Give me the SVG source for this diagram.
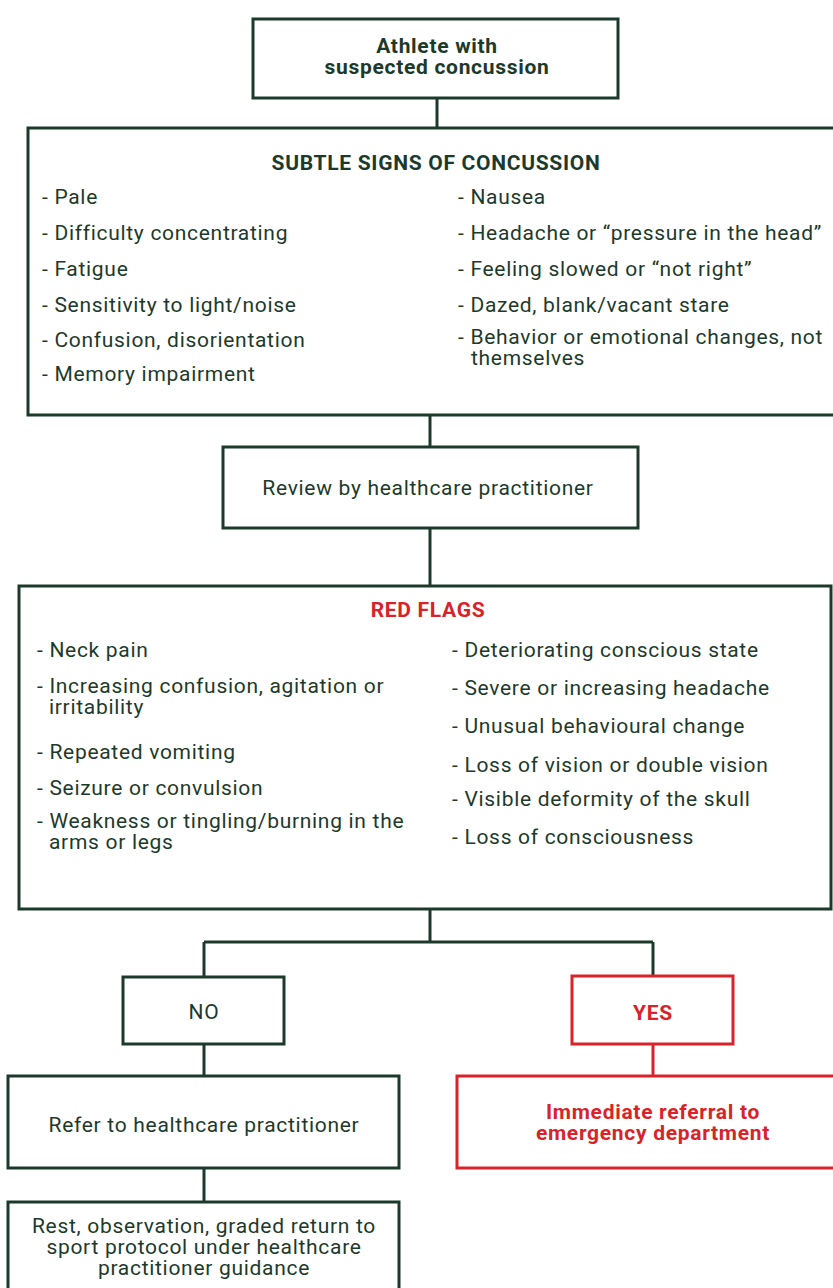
<svg xmlns="http://www.w3.org/2000/svg" width="833" height="1288" viewBox="0 0 833 1288">
<style>
.box{fill:#fff;stroke:#1c3a2b;stroke-width:3}
.rbox{fill:#fff;stroke:#d9222a;stroke-width:3}
.ln{fill:none;stroke:#1c3a2b;stroke-width:3}
.rln{fill:none;stroke:#d9222a;stroke-width:3}
text{font-family:Roboto,"Liberation Sans",sans-serif;font-size:21px;letter-spacing:0.7px;fill:#1c3a2b}
.b{font-weight:bold}
.c{text-anchor:middle}
.r{fill:#d9222a}
</style>
<rect width="833" height="1288" fill="#fff"/>
<g id="connectors">
<path class="ln" d="M437 98V128"/>
<path class="ln" d="M430 415V447"/>
<path class="ln" d="M430 528V586"/>
<path class="ln" d="M430 909V942M204 942H653M204 942V977M653 942V976"/>
<path class="ln" d="M204 1044V1076"/>
<path class="ln" d="M204 1168V1202"/>
<path class="rln" d="M653 1044V1076"/>
</g>
<g id="athlete">
<rect class="box" x="253" y="19" width="365" height="79"/>
<text class="b c" x="437" y="53">Athlete with</text>
<text class="b c" x="437" y="74">suspected concussion</text>
</g>
<g id="subtle">
<rect class="box" x="28" y="128" width="808" height="287"/>
<text class="b c" x="436" y="170">SUBTLE SIGNS OF CONCUSSION</text>
<text x="42" y="204">- Pale</text>
<text x="42" y="240">- Difficulty concentrating</text>
<text x="42" y="276">- Fatigue</text>
<text x="42" y="312">- Sensitivity to light/noise</text>
<text x="42" y="347">- Confusion, disorientation</text>
<text x="42" y="381">- Memory impairment</text>
<text x="458" y="204">- Nausea</text>
<text x="458" y="240">- Headache or “pressure in the head”</text>
<text x="458" y="276">- Feeling slowed or “not right”</text>
<text x="458" y="312">- Dazed, blank/vacant stare</text>
<text x="458" y="344">- Behavior or emotional changes, not</text>
<text x="471" y="365">themselves</text>
</g>
<g id="review">
<rect class="box" x="223" y="447" width="415" height="81"/>
<text class="c" x="428" y="495">Review by healthcare practitioner</text>
</g>
<g id="redflags">
<rect class="box" x="19" y="586" width="812" height="323"/>
<text class="b c r" x="428" y="617">RED FLAGS</text>
<text x="37" y="657">- Neck pain</text>
<text x="37" y="693">- Increasing confusion, agitation or</text>
<text x="49" y="714">irritability</text>
<text x="37" y="759">- Repeated vomiting</text>
<text x="37" y="795">- Seizure or convulsion</text>
<text x="37" y="828">- Weakness or tingling/burning in the</text>
<text x="49" y="849">arms or legs</text>
<text x="452" y="657">- Deteriorating conscious state</text>
<text x="452" y="695">- Severe or increasing headache</text>
<text x="452" y="733">- Unusual behavioural change</text>
<text x="452" y="772">- Loss of vision or double vision</text>
<text x="452" y="806">- Visible deformity of the skull</text>
<text x="452" y="844">- Loss of consciousness</text>
</g>
<g id="no">
<rect class="box" x="123" y="977" width="161" height="67"/>
<text class="c" x="204" y="1019">NO</text>
</g>
<g id="yes">
<rect class="rbox" x="572" y="976" width="161" height="68"/>
<text class="b c r" x="653" y="1020">YES</text>
</g>
<g id="refer">
<rect class="box" x="8" y="1076" width="391" height="92"/>
<text class="c" x="204" y="1132">Refer to healthcare practitioner</text>
</g>
<g id="emergency">
<rect class="rbox" x="457" y="1076" width="380" height="92"/>
<text class="b c r" x="653" y="1119">Immediate referral to</text>
<text class="b c r" x="653" y="1140">emergency department</text>
</g>
<g id="rest">
<rect class="box" x="8" y="1202" width="391" height="100"/>
<text class="c" x="204" y="1233">Rest, observation, graded return to</text>
<text class="c" x="204" y="1254">sport protocol under healthcare</text>
<text class="c" x="204" y="1275">practitioner guidance</text>
</g>
</svg>
